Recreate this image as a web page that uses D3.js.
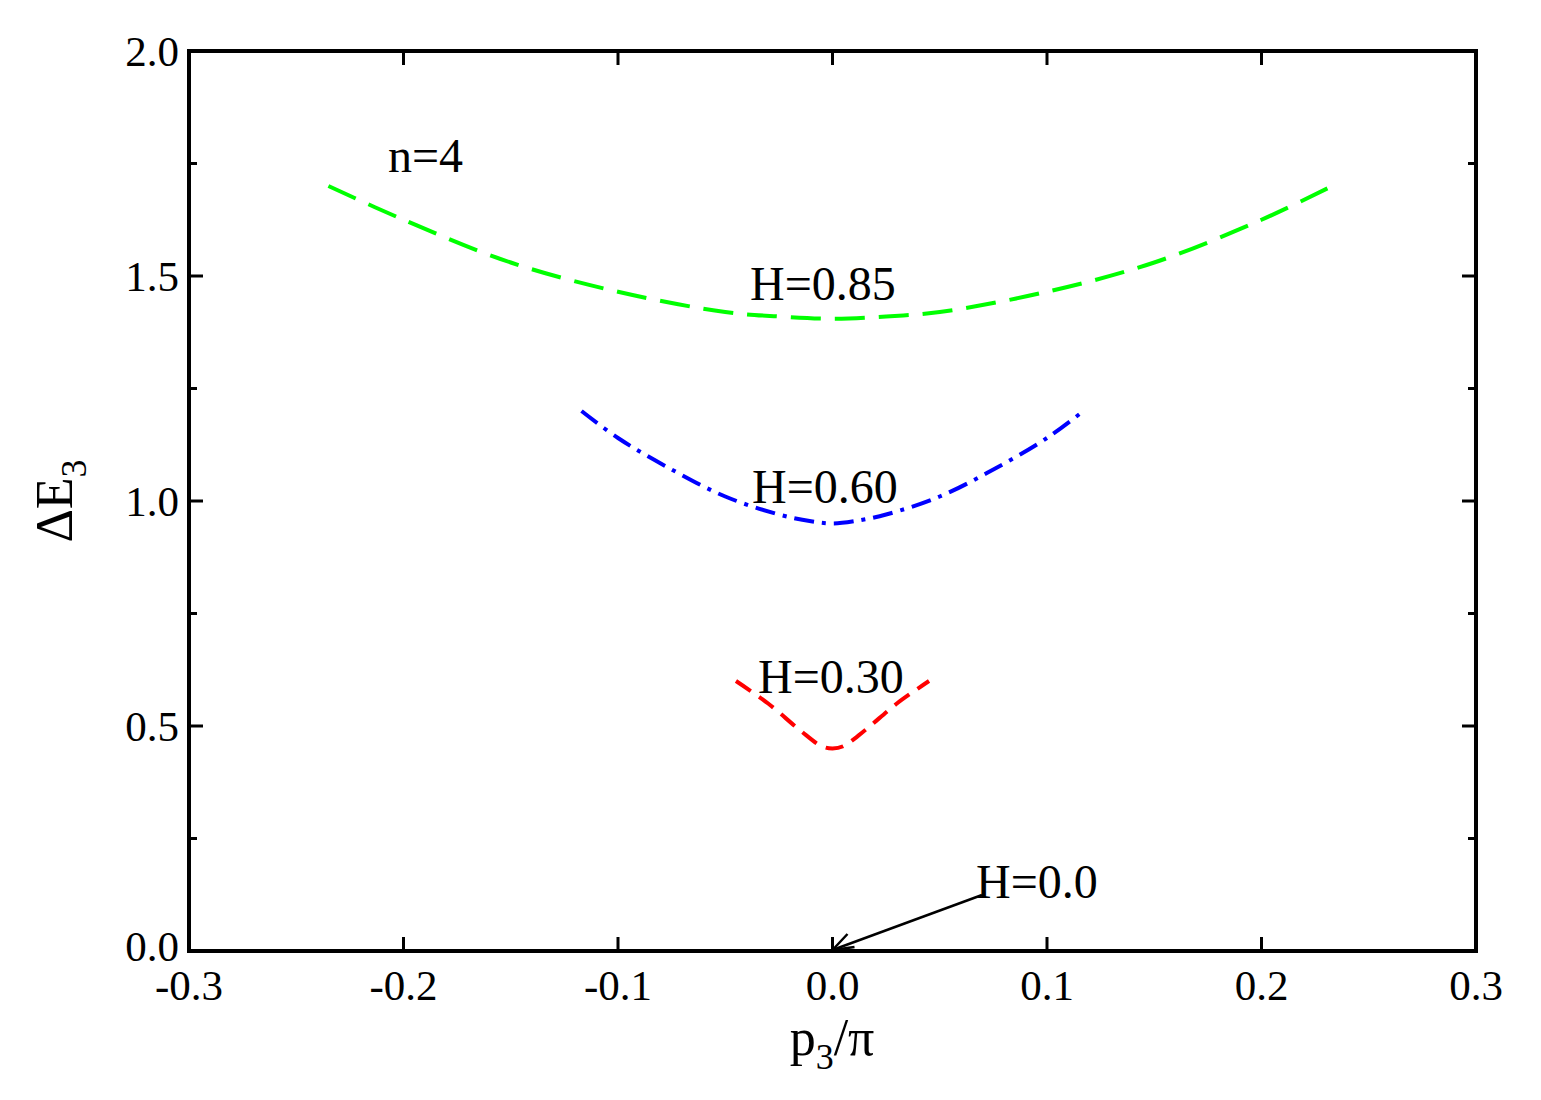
<!DOCTYPE html>
<html><head><meta charset="utf-8">
<script src="https://cdn.jsdelivr.net/npm/d3@7"></script>
<style>body{margin:0;background:#fff}text{font-family:"Liberation Serif",serif}</style>
</head><body><svg id="svg" width="1541" height="1100"></svg>
<script>
// data
var greenP = [-0.235,-0.2,-0.15,-0.1,-0.05,-0.025,0,0.025,0.05,0.1,0.15,0.2,0.233];
var greenE = [1.70,1.625,1.53,1.465,1.42,1.41,1.405,1.41,1.42,1.465,1.53,1.625,1.70];
var blueP = [-0.117,-0.1,-0.075,-0.05,-0.025,-0.01,0,0.01,0.025,0.05,0.075,0.1,0.117];
var blueE = [1.20,1.14,1.07,1.01,0.97,0.955,0.95,0.955,0.97,1.01,1.07,1.14,1.20];
var redP = [-0.045,-0.03,-0.015,-0.005,0,0.005,0.015,0.03,0.045];
var redE = [0.60,0.55,0.49,0.455,0.45,0.455,0.49,0.55,0.60];
var xTicks = [-0.3,-0.2,-0.1,0.0,0.1,0.2,0.3];
var yTicks = [0.0,0.5,1.0,1.5,2.0];
var yMinor = [0.25,0.75,1.25,1.75];

var svg = d3.select("#svg");
var L=189,R=1476,T=51,B=951;
var x = d3.scaleLinear().domain([-0.3,0.3]).range([L,R]);
var y = d3.scaleLinear().domain([0,2]).range([B,T]);

var g = svg.append("g");
function ticks(vals, len){
  vals.forEach(function(v){
    g.append("line").attr("x1",L).attr("x2",L+len).attr("y1",y(v)).attr("y2",y(v));
    g.append("line").attr("x1",R).attr("x2",R-len).attr("y1",y(v)).attr("y2",y(v));
  });
}
ticks(yTicks,14); ticks(yMinor,8);
xTicks.forEach(function(v){
  g.append("line").attr("x1",x(v)).attr("x2",x(v)).attr("y1",B).attr("y2",B-14);
  g.append("line").attr("x1",x(v)).attr("x2",x(v)).attr("y1",T).attr("y2",T+14);
});
g.selectAll("line").attr("stroke","#000").attr("stroke-width",3);
svg.append("rect").attr("x",L).attr("y",T).attr("width",R-L).attr("height",B-T)
  .attr("fill","none").attr("stroke","#000").attr("stroke-width",4);

svg.selectAll(".xl").data(xTicks).enter().append("text")
  .attr("x",function(d){return x(d);}).attr("y",B+49).attr("text-anchor","middle")
  .attr("font-size",43).text(function(d){return d.toFixed(1);});
svg.selectAll(".yl").data(yTicks).enter().append("text")
  .attr("x",L-10).attr("y",function(d){return y(d)+(d===0?10:15);}).attr("text-anchor","end")
  .attr("font-size",43).text(function(d){return d.toFixed(1);});

var line = d3.line().x(function(d){return x(d[0]);}).y(function(d){return y(d[1]);}).curve(d3.curveCatmullRom);
function curve(P,E,col,dash){
  svg.append("path").datum(P.map(function(p,i){return [p,E[i]];}))
    .attr("d",line).attr("fill","none").attr("stroke",col).attr("stroke-width",4)
    .attr("stroke-dasharray",dash);
}
curve(greenP,greenE,"#00ff00","30,14");
curve(blueP,blueE,"#0000ff","20,8,4,8");
curve(redP,redE,"#ff0000","18,10");

function label(t,px,py){svg.append("text").attr("x",px).attr("y",py).attr("font-size",48).text(t);}
label("n=4",388,172);
label("H=0.85",750,300);
label("H=0.60",752,503);
label("H=0.30",758,693);
label("H=0.0",976,898);

svg.append("line").attr("x1",982).attr("y1",895).attr("x2",x(0)).attr("y2",y(0)-1)
  .attr("stroke","#000").attr("stroke-width",2.5);
svg.append("path").attr("d","M"+x(0)+","+(y(0)-1)+" l22,-3 M"+x(0)+","+(y(0)-1)+" l15,-16")
  .attr("stroke","#000").attr("stroke-width",2.5).attr("fill","none");

var xt = svg.append("text").attr("x",832).attr("y",1055).attr("text-anchor","middle").attr("font-size",52);
xt.append("tspan").text("p");
xt.append("tspan").attr("font-size",36).attr("dy",14).text("3");
xt.append("tspan").attr("dy",-14).text("/π");
var yt = svg.append("text").attr("transform","translate(72,501) rotate(-90)").attr("text-anchor","middle").attr("font-size",52);
yt.append("tspan").text("ΔE");
yt.append("tspan").attr("font-size",36).attr("dy",14).text("3");
</script></body></html>
